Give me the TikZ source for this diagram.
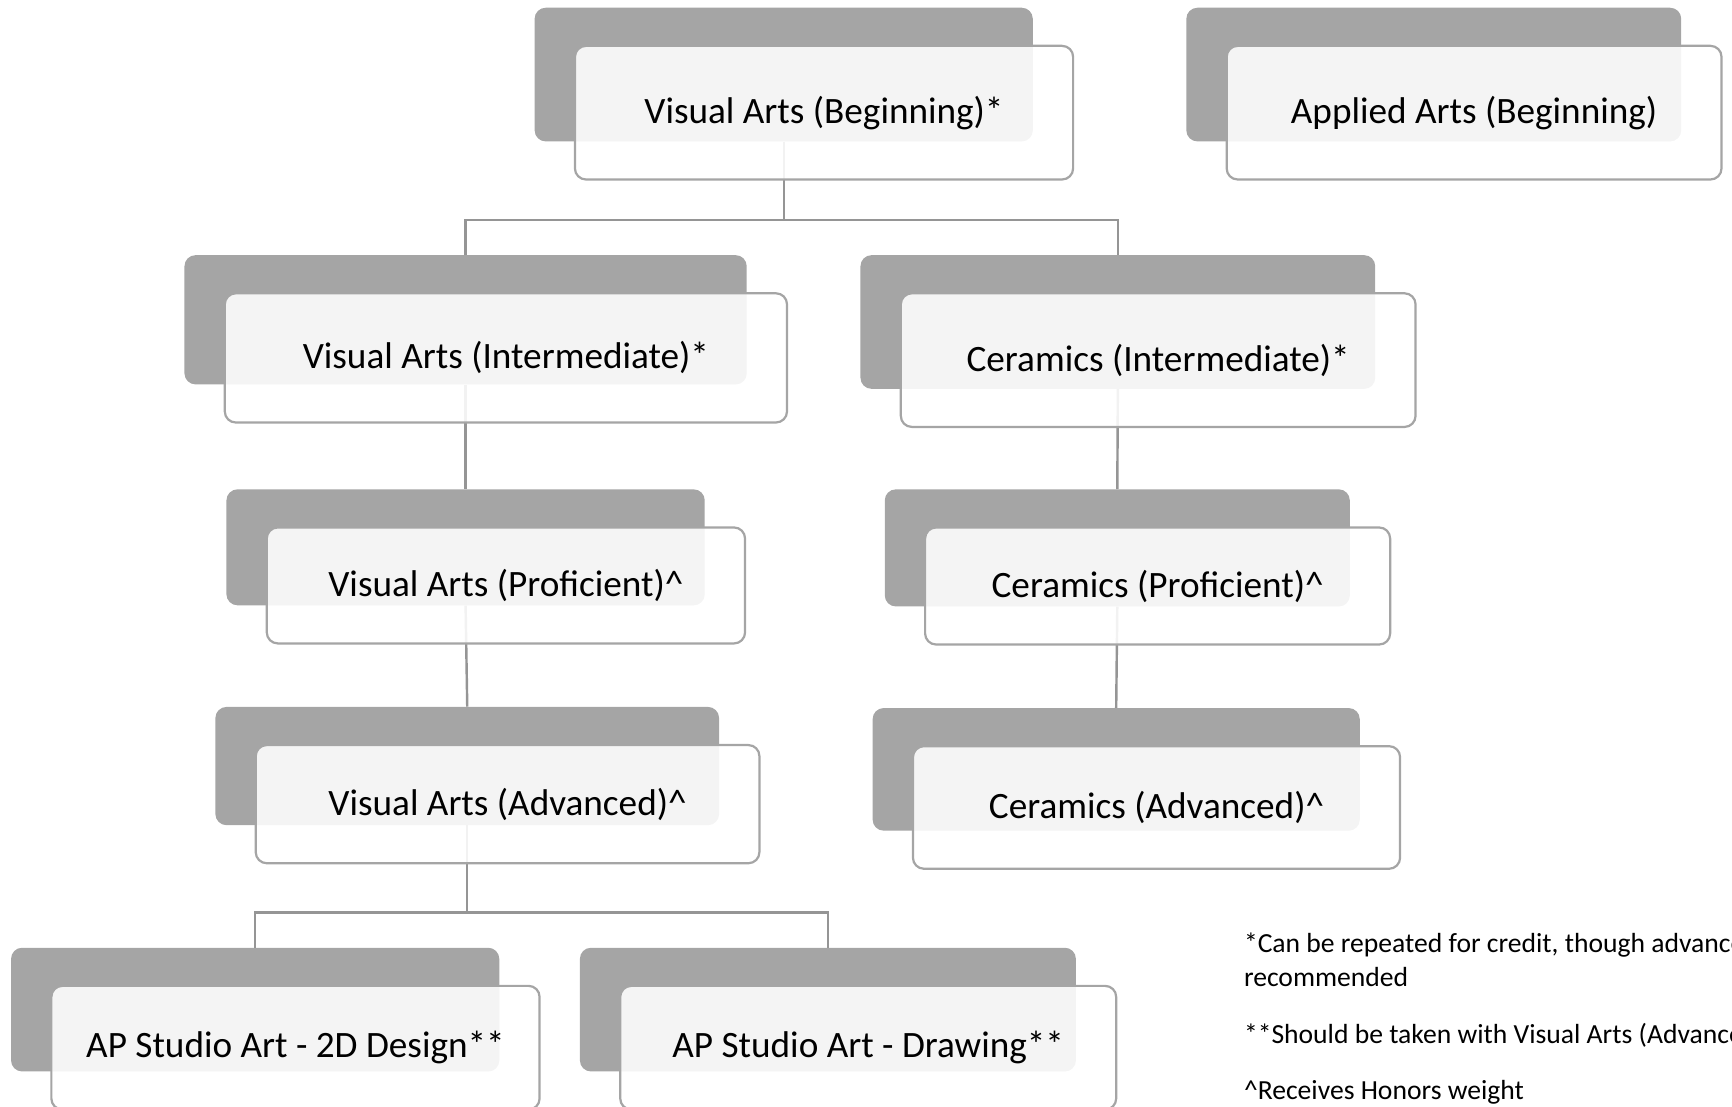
\documentclass[tikz,border=0pt]{standalone}
\usepackage{fontspec}
\setmainfont{Carlito}
\usetikzlibrary{positioning}

\definecolor{boxgrey}{HTML}{A5A5A5}
\definecolor{linkgrey}{HTML}{959595}

\begin{document}
\begin{tikzpicture}[
    x=1pt, y=-1pt,
    backbox/.style={rectangle, rounded corners=10pt, fill=boxgrey, draw=none},
    frontbox/.style={rectangle, rounded corners=10pt, draw=boxgrey, line width=2pt,
                fill=white, fill opacity=0.88, text opacity=1, align=center,
                font=\fontsize{33.7}{38}\selectfont},
    link/.style={draw=linkgrey, line width=2.2pt},
    note/.style={anchor=north west, inner sep=0pt, align=left,
                font=\fontsize{25}{31}\selectfont}
]
\useasboundingbox (0,0) rectangle (1568,1002);

% Back cards
\node[backbox, minimum width=451pt, minimum height=121pt] (vab) at (709.5,67.5) {};
\node[backbox, minimum width=448pt, minimum height=121pt] (aab) at (1298,67.5) {};
\node[backbox, minimum width=509pt, minimum height=117pt] (vai) at (421.5,289.5) {};
\node[backbox, minimum width=466pt, minimum height=121pt] (cei) at (1012,291.5) {};
\node[backbox, minimum width=433pt, minimum height=105pt] (vap) at (421.5,495.5) {};
\node[backbox, minimum width=421pt, minimum height=106pt] (cep) at (1011.5,496) {};
\node[backbox, minimum width=456pt, minimum height=107pt] (vaa) at (423,693.5) {};
\node[backbox, minimum width=441pt, minimum height=111pt] (cea) at (1010.5,696.5) {};
\node[backbox, minimum width=442pt, minimum height=112pt] (apdes) at (231,914) {};
\node[backbox, minimum width=449pt, minimum height=112pt] (apdraw) at (749.5,914) {};

% Connectors
\draw[link] (vab.south) -- ++(0,71) -| (vai.north);
\draw[link] (vab.south) -- ++(0,71) -| (cei.north);
\draw[link] (vai.south) -- (vap.north);
\draw[link] (vap.south) -- (vaa.north);
\draw[link] (cei.south) -- (cep.north);
\draw[link] (cep.south) -- (cea.north);
\draw[link] (vaa.south) -- ++(0,79) -| (apdes.north);
\draw[link] (vaa.south) -- ++(0,79) -| (apdraw.north);

% Front cards
\node[frontbox, minimum width=451pt, minimum height=121pt] (vabF) at ([shift={(36.5,34.5)}]vab.center) {Visual Arts (Beginning)*};
\node[frontbox, minimum width=448pt, minimum height=121pt] (aabF) at ([shift={(36.5,34.5)}]aab.center) {Applied Arts (Beginning)};
\node[frontbox, minimum width=509pt, minimum height=117pt] (vaiF) at ([shift={(36.5,34.5)}]vai.center) {Visual Arts (Intermediate)*};
\node[frontbox, minimum width=466pt, minimum height=121pt] (ceiF) at ([shift={(36.5,34.5)}]cei.center) {Ceramics (Intermediate)*};
\node[frontbox, minimum width=433pt, minimum height=105pt] (vapF) at ([shift={(36.5,34.5)}]vap.center) {Visual Arts (Proficient)\textasciicircum};
\node[frontbox, minimum width=421pt, minimum height=106pt] (cepF) at ([shift={(36.5,34.5)}]cep.center) {Ceramics (Proficient)\textasciicircum};
\node[frontbox, minimum width=456pt, minimum height=107pt] (vaaF) at ([shift={(36.5,34.5)}]vaa.center) {Visual Arts (Advanced)\textasciicircum};
\node[frontbox, minimum width=441pt, minimum height=111pt] (ceaF) at ([shift={(36.5,34.5)}]cea.center) {Ceramics (Advanced)\textasciicircum};
\node[frontbox, minimum width=442pt, minimum height=112pt] (apdesF) at ([shift={(36.5,34.5)}]apdes.center) {AP Studio Art - 2D Design**};
\node[frontbox, minimum width=449pt, minimum height=112pt] (apdrawF) at ([shift={(36.5,34.5)}]apdraw.center) {AP Studio Art - Drawing**};

% Notes
\node[note] (note1) at (1126,844) {*Can be repeated for credit, though advanced\\recommended};
\node[note] (note2) at (1126,926) {**Should be taken with Visual Arts (Advanced)\textasciicircum};
\node[note] (note3) at (1126,978) {\textasciicircum Receives Honors weight};

\end{tikzpicture}
\end{document}
